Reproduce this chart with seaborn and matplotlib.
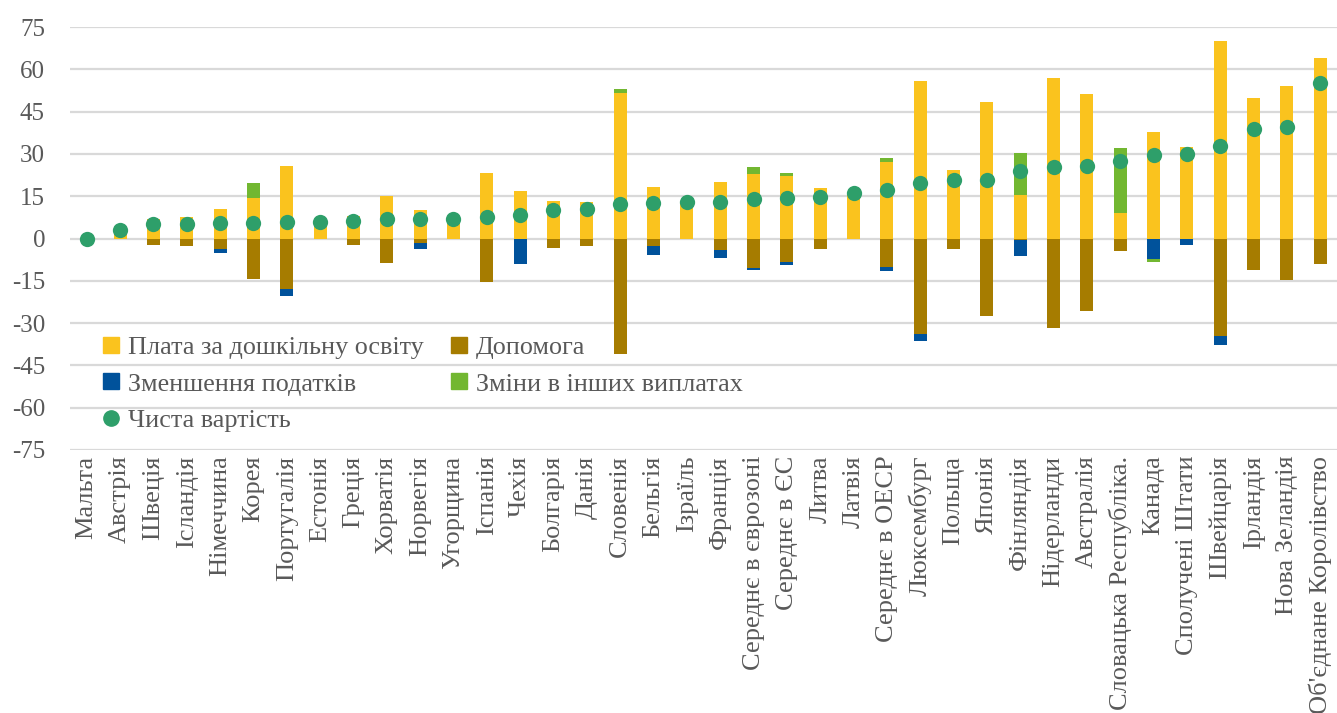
import numpy as np
import pandas as pd
import matplotlib
matplotlib.use("Agg")
import matplotlib.pyplot as plt
import seaborn as sns
from matplotlib.lines import Line2D

# дані: вартість дошкільної освіти (% від зарплати), компоненти
countries = ["Мальта", "Австрія", "Швеція", "Ісландія", "Німеччина", "Корея", "Португалія",
             "Естонія", "Греція", "Хорватія", "Норвегія", "Угорщина", "Іспанія", "Чехія",
             "Болгарія", "Данія", "Словенія", "Бельгія", "Ізраїль", "Франція",
             "Середнє в єврозоні", "Середнє в ЄС", "Литва", "Латвія", "Середнє в ОЕСР",
             "Люксембург", "Польща", "Японія", "Фінляндія", "Нідерланди", "Австралія",
             "Словацька Республіка.", "Канада", "Сполучені Штати", "Швейцарія", "Ірландія",
             "Нова Зеландія", "Об'єднане Королівство"]

fees = [0, 3.1, 7.0, 7.8, 10.3, 14.3, 25.8, 5.8, 8.0, 15.0, 10.0, 6.8, 23.1, 16.9,
        13.2, 12.8, 51.7, 18.4, 12.9, 19.9, 22.9, 22.0, 17.9, 16.2, 27.1,
        55.8, 24.3, 48.3, 15.5, 57.0, 51.3, 9.1, 37.7, 32.3, 70.2, 49.9, 54.0, 64.0]
benefits = [0, 0, -2.2, -2.8, -3.7, -14.5, -17.9, 0, -2.2, -8.8, -1.7, 0, -15.6, 0,
            -3.4, -2.5, -41.0, -2.8, 0, -4.0, -10.4, -8.2, -3.8, 0, -10.1,
            -34.0, -3.8, -27.6, -0.5, -31.8, -25.7, -4.6, 0, 0, -34.5, -11.3, -14.6, -8.9]
tax = [0, 0, 0, 0, -1.5, 0, -2.5, -0.3, 0, 0, -2.0, 0, 0, -9.0,
       0, 0, 0, -3.1, 0, -3.0, -0.9, -1.1, 0, 0, -1.3,
       -2.4, 0, 0, -5.7, 0, 0, 0, -7.1, -2.4, -3.2, 0, 0, 0]
other = [0, 0, 0, 0, 0, 5.5, 0, 0, 0, 0, 0, 0, 0, 0,
         0, 0, 1.2, 0, 0, 0, 2.3, 1.4, 0, 0, 1.3,
         0, 0, 0, 14.8, 0, 0, 22.9, -1.2, 0, 0, 0, 0, 0]
net = [0, 3.1, 5.2, 5.2, 5.4, 5.6, 5.7, 5.7, 6.2, 6.75, 6.75, 6.75, 7.8, 8.2,
       10.0, 10.4, 12.1, 12.6, 12.9, 13.0, 14.0, 14.5, 14.6, 16.2, 17.3,
       19.6, 20.6, 20.7, 24.1, 25.4, 25.8, 27.4, 29.6, 30.0, 32.7, 38.8, 39.7, 55.3]

labels = ["Плата за дошкільну освіту", "Допомога", "Зменшення податків",
          "Зміни в інших виплатах", "Чиста вартість"]

YELLOW = "#FAC31E"
BROWN = "#A67C00"
BLUE = "#00529B"
GREEN = "#72B731"
DOT = "#2E9F6A"
TXT = "#595959"

df = pd.DataFrame({"country": countries, "fees": fees, "benefits": benefits,
                   "tax": tax, "other": other, "net": net})
oth = np.array(other)
# стек: додатна частина (плата + інші), від'ємна (допомога + податки + інші)
df["pos_top"] = df["fees"] + np.clip(oth, 0, None)
df["neg_tax"] = df["benefits"] + df["tax"]
df["neg_all"] = df["neg_tax"] + np.clip(oth, None, 0)

sns.set_theme(style="white")
plt.rcParams["font.family"] = ["Liberation Serif", "DejaVu Serif"]
plt.rcParams["axes.unicode_minus"] = False

fig = plt.figure(figsize=(13.37, 7.13), dpi=100)
ax = fig.add_axes([70 / 1337, 1 - 450 / 713, 1267 / 1337, 423 / 713])

w = 0.39
kw = dict(x="country", order=countries, width=w, saturation=1, linewidth=0, ax=ax)
sns.barplot(data=df, y="pos_top", color=GREEN, **kw)
sns.barplot(data=df, y="fees", color=YELLOW, **kw)
sns.barplot(data=df, y="neg_all", color=GREEN, **kw)
sns.barplot(data=df, y="neg_tax", color=BLUE, **kw)
sns.barplot(data=df, y="benefits", color=BROWN, **kw)
sns.stripplot(data=df, x="country", y="net", order=countries, jitter=False,
              size=11, color=DOT, linewidth=0, ax=ax, zorder=5)

ax.set_xlim(-0.5, len(countries) - 0.5)
ax.set_ylim(-75, 75)
ax.set_yticks(np.arange(-75, 76, 15))
ax.yaxis.grid(True, color="#D9D9D9", linewidth=1.6)
ax.set_axisbelow(True)
for s in ax.spines.values():
    s.set_visible(False)
ax.set_xlabel("")
ax.set_ylabel("")
ax.tick_params(axis="y", length=0, pad=18, labelsize=18, labelcolor=TXT)
ax.tick_params(axis="x", length=0, pad=4, labelsize=19, labelcolor=TXT)
plt.setp(ax.get_xticklabels(), rotation=90, va="top", ha="center")

# легенда: порядок по стовпцях
handles = [
    Line2D([], [], marker="s", linestyle="", color=YELLOW, markersize=11),
    Line2D([], [], marker="s", linestyle="", color=BLUE, markersize=11),
    Line2D([], [], marker="o", linestyle="", color=DOT, markersize=11),
    Line2D([], [], marker="s", linestyle="", color=BROWN, markersize=11),
    Line2D([], [], marker="s", linestyle="", color=GREEN, markersize=11),
]
leg_labels = [labels[0], labels[2], labels[4], labels[1], labels[3]]
leg = ax.legend(handles, leg_labels, ncol=2, loc="upper left",
                bbox_to_anchor=(32 / 1267, (450 - 336) / 423), frameon=False,
                fontsize=18.8, handlelength=0.7, handletextpad=0.3,
                columnspacing=1.0, labelspacing=0.5, borderpad=0, borderaxespad=0)
for t in leg.get_texts():
    t.set_color(TXT)

fig.savefig("out.png", dpi=100)
